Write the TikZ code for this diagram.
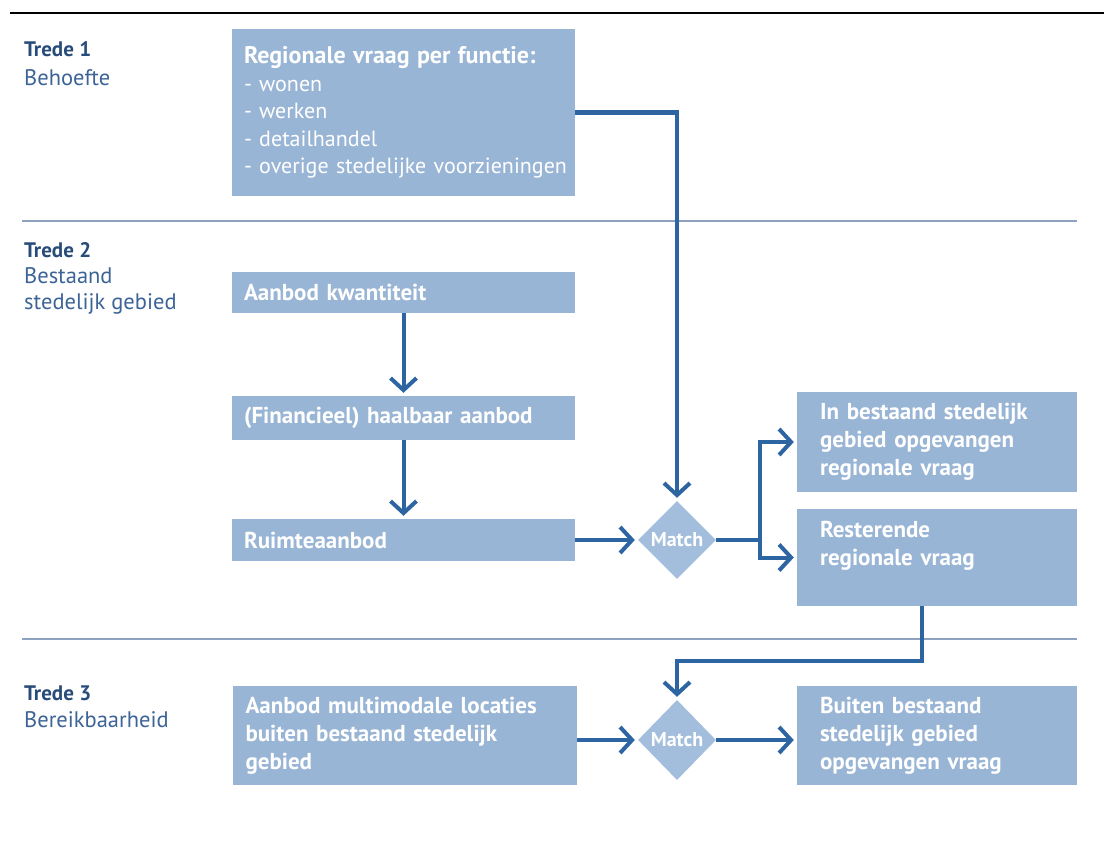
\documentclass[tikz,border=0pt]{standalone}
\usepackage{fontspec}
\setmainfont{PT Sans}
\usetikzlibrary{arrows.meta,shapes.geometric}
\definecolor{boxfill}{RGB}{153,181,213}
\definecolor{diafill}{RGB}{163,190,220}
\definecolor{arrowblue}{RGB}{45,100,162}
\definecolor{labeldark}{RGB}{40,76,122}
\definecolor{labelblue}{RGB}{60,100,150}
\definecolor{sepline}{RGB}{140,162,190}
\begin{document}
\begin{tikzpicture}[x=1pt,y=-1pt,
  box/.style={fill=boxfill, draw=none, text=white, font=\bfseries\fontsize{23}{28}\selectfont, align=left, inner ysep=0pt, anchor=center},
  lbox/.style={box, text width=319pt, inner xsep=12pt},
  rbox/.style={box, text width=234pt, inner xsep=23pt},
  match/.style={diamond, fill=diafill, text=white, font=\bfseries\fontsize{20}{22}\selectfont, minimum width=78pt, minimum height=78pt, inner sep=0pt},
  arr/.style={draw=arrowblue, line width=4pt, -{Straight Barb[length=12pt,width=26pt]}, shorten >=3pt},
  tlabel/.style={anchor=base west, inner sep=0pt, text=labeldark, font=\bfseries\fontsize{21}{24}\selectfont},
  slabel/.style={anchor=base west, inner sep=0pt, text=labelblue, font=\fontsize{22.5}{26}\selectfont},
  sep/.style={draw=sepline, line width=1.5pt}
]
\useasboundingbox (0,0) rectangle (1104,851);
\fill[white] (0,0) rectangle (1104,851);

% rules
\draw[black, line width=2pt] (10,13) -- (1104,13);
\draw[sep] (22,221) -- (1077,221);
\draw[sep] (22,639) -- (1077,639);

% left labels
\node[tlabel] (t1) at (24,57) {Trede 1};
\node[slabel] (t1s) at (24,85) {Behoefte};
\node[tlabel] (t2) at (24,257) {Trede 2};
\node[slabel] (t2s) at (24,283) {Bestaand};
\node[slabel] (t2t) at (24,309) {stedelijk gebied};
\node[tlabel] (t3) at (24,700) {Trede 3};
\node[slabel] (t3s) at (24,727) {Bereikbaarheid};

% boxes
\node[lbox, minimum height=167pt, font=\fontsize{22}{27.5}\selectfont] (b1) at (403.5,112.5)
  {{\fontsize{24}{27.5}\selectfont\bfseries Regionale vraag per functie:}\\- wonen\\- werken\\- detailhandel\\\mbox{- overige stedelijke voorzieningen}};
\node[lbox, minimum height=41pt] (ak) at (403.5,292.5) {Aanbod kwantiteit};
\node[lbox, minimum height=44pt] (fin) at (403.5,418) {(Financieel) haalbaar aanbod};
\node[lbox, minimum height=42pt] (ru) at (403.5,540) {Ruimteaanbod};
\node[rbox, minimum height=100pt] (inb) at (937,442) {In bestaand stedelijk\\gebied opgevangen\\regionale vraag};
\node[rbox, minimum height=97pt] (rest) at (937,557.5) {Resterende\\regionale vraag\\\mbox{}};
\node[lbox, minimum height=99pt, text width=318pt, inner xsep=13pt] (mm) at (404.5,735.5) {Aanbod multimodale locaties\\buiten bestaand stedelijk\\gebied};
\node[rbox, minimum height=99pt] (bu) at (937,735.5) {Buiten bestaand\\stedelijk gebied\\opgevangen vraag};

% diamonds
\node[match] (m1) at (677,540) {Match};
\node[match, minimum height=80pt] (m2) at (677,740) {Match};

% connectors
\draw[arr] (b1.east) -| (m1.north);
\draw[arr] (ak.south) -- (fin.north);
\draw[arr] (fin.south) -- (ru.north);
\draw[arr] (ru.east) -- (m1.west);
\coordinate (split) at (760,540);
\draw[draw=arrowblue, line width=4pt] (m1.east) -- (split);
\draw[arr] (split) |- (inb.west);
\draw[arr] (split) |- (rest.west);
\draw[arr] ([xshift=-15pt]rest.south) -- ++(0,55) -| (m2.north);
\draw[arr] (mm.east |- m2.west) -- (m2.west);
\draw[arr] (m2.east) -- (bu.west |- m2.east);
\end{tikzpicture}
\end{document}
